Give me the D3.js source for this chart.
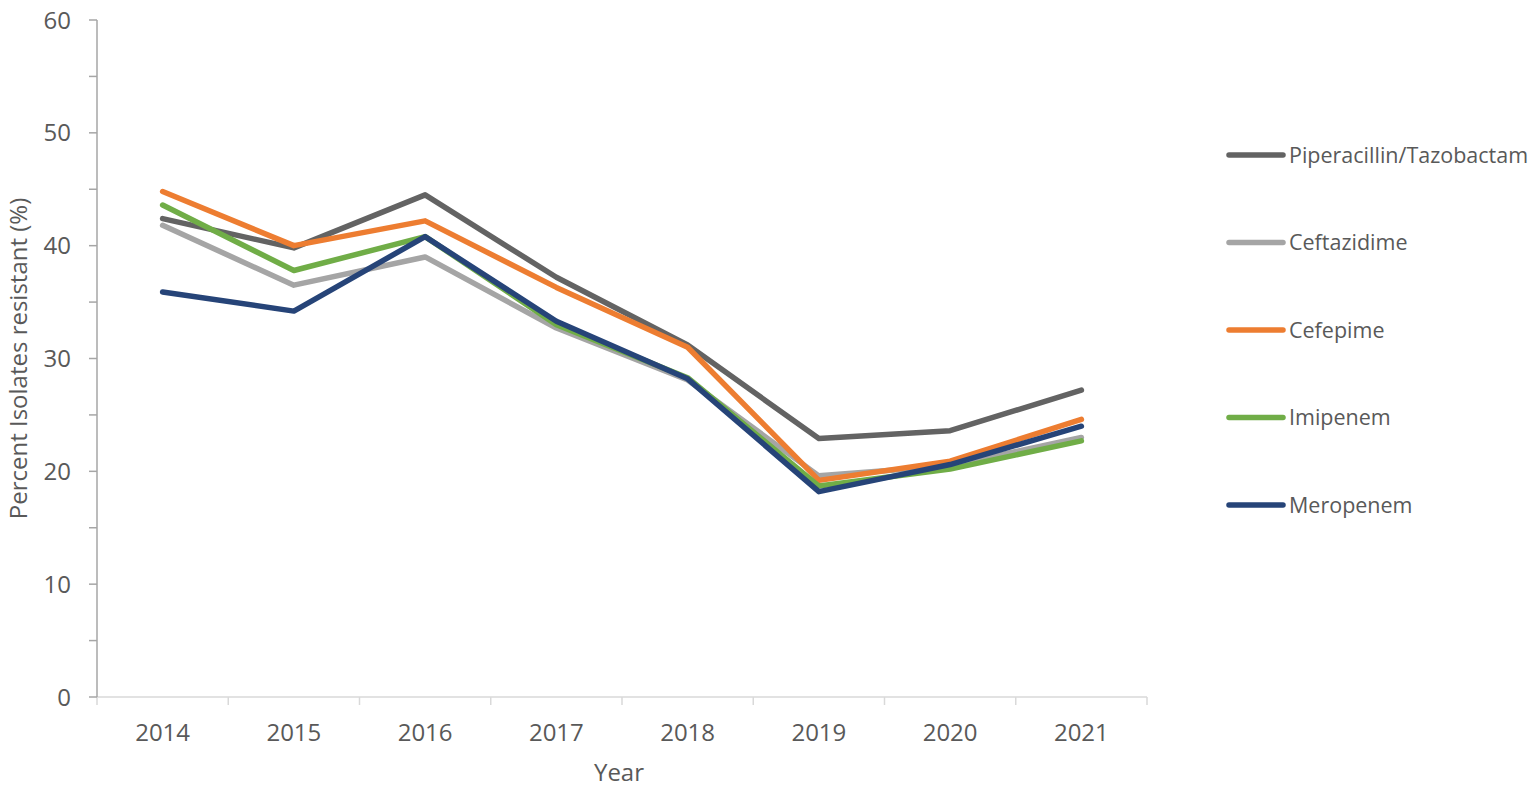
<!DOCTYPE html>
<html>
<head>
<meta charset="utf-8">
<script src="https://cdn.jsdelivr.net/npm/d3@7"></script>
<style>
  html, body { margin: 0; padding: 0; background: #fff; }
  svg { display: block; font-family: "Open Sans", "Noto Sans", sans-serif; }
</style>
</head>
<body>
<div id="chart"></div>
<script>
const years = ["2014", "2015", "2016", "2017", "2018", "2019", "2020", "2021"];
const drugNames = ["Piperacillin/Tazobactam", "Ceftazidime", "Cefepime", "Imipenem", "Meropenem"];
const drugColors = ["#636363", "#a5a5a5", "#ed7d31", "#70ad47", "#264478"];

const pipTaz      = [42.4, 39.8, 44.5, 37.2, 31.2, 22.9, 23.6, 27.2];
const ceftazidime = [41.8, 36.5, 39.0, 32.7, 28.1, 19.6, 20.5, 23.0];
const cefepime    = [44.8, 40.0, 42.2, 36.3, 31.0, 19.2, 20.9, 24.6];
const imipenem    = [43.6, 37.8, 40.8, 33.0, 28.3, 18.7, 20.2, 22.7];
const meropenem   = [35.9, 34.2, 40.8, 33.3, 28.2, 18.2, 20.6, 24.0];

const seriesValues = [pipTaz, ceftazidime, cefepime, imipenem, meropenem];
const yTicks = [0, 10, 20, 30, 40, 50, 60];
const yMinorTicks = [5, 15, 25, 35, 45, 55];

const width = 1536, height = 791;
const margin = { top: 20, right: 389, bottom: 94, left: 97 };
const innerW = width - margin.left - margin.right;
const innerH = height - margin.top - margin.bottom;

const svg = d3.select("#chart").append("svg")
  .attr("width", width)
  .attr("height", height);

const g = svg.append("g")
  .attr("transform", `translate(${margin.left},${margin.top})`);

const x = d3.scaleBand().domain(years).range([0, innerW]);
const y = d3.scaleLinear().domain([0, 60]).range([innerH, 0]);

// x axis: ticks at category boundaries
g.append("line")
  .attr("x1", 0).attr("x2", innerW)
  .attr("y1", innerH).attr("y2", innerH)
  .attr("stroke", "#d9d9d9").attr("stroke-width", 1.5);

const bounds = years.map(d => x(d)).concat([innerW]);
g.selectAll(".xtick")
  .data(bounds)
  .enter().append("line")
  .attr("x1", d => d).attr("x2", d => d)
  .attr("y1", innerH).attr("y2", innerH + 8)
  .attr("stroke", "#d9d9d9").attr("stroke-width", 1.5);

g.selectAll(".xlabel")
  .data(years)
  .enter().append("text")
  .attr("x", d => x(d) + x.bandwidth() / 2)
  .attr("y", innerH + 44)
  .attr("text-anchor", "middle")
  .attr("font-size", 24)
  .attr("fill", "#595959")
  .text(d => d);

// y axis
g.append("line")
  .attr("x1", 0).attr("x2", 0)
  .attr("y1", 0).attr("y2", innerH)
  .attr("stroke", "#a6a6a6").attr("stroke-width", 1.5);

g.selectAll(".ytick")
  .data(yTicks.concat(yMinorTicks))
  .enter().append("line")
  .attr("x1", -8).attr("x2", 0)
  .attr("y1", d => y(d)).attr("y2", d => y(d))
  .attr("stroke", "#a6a6a6").attr("stroke-width", 1.5);

g.selectAll(".ylabel")
  .data(yTicks)
  .enter().append("text")
  .attr("x", -26)
  .attr("y", d => y(d))
  .attr("dy", "0.36em")
  .attr("text-anchor", "end")
  .attr("font-size", 24)
  .attr("fill", "#595959")
  .text(d => d);

// axis titles
g.append("text")
  .attr("transform", "rotate(-90)")
  .attr("x", -innerH / 2)
  .attr("y", -70)
  .attr("text-anchor", "middle")
  .attr("font-size", 24)
  .attr("fill", "#595959")
  .text("Percent Isolates resistant (%)");

g.append("text")
  .attr("x", innerW / 2 - 3)
  .attr("y", innerH + 84)
  .attr("text-anchor", "middle")
  .attr("font-size", 24)
  .attr("fill", "#595959")
  .text("Year");

// lines
const line = d3.line()
  .x((d, i) => x(years[i]) + x.bandwidth() / 2)
  .y(d => y(d));

g.selectAll(".series")
  .data(seriesValues)
  .enter().append("path")
  .attr("fill", "none")
  .attr("stroke", (d, i) => drugColors[i])
  .attr("stroke-width", 5.5)
  .attr("stroke-linejoin", "round")
  .attr("stroke-linecap", "round")
  .attr("d", line);

// legend
const legend = svg.append("g")
  .attr("transform", "translate(1229,155)");

const li = legend.selectAll("g")
  .data(drugNames)
  .enter().append("g")
  .attr("transform", (d, i) => `translate(0,${i * 87.5})`);

li.append("line")
  .attr("x1", 0).attr("x2", 54)
  .attr("y1", 0).attr("y2", 0)
  .attr("stroke", (d, i) => drugColors[i])
  .attr("stroke-width", 5.5)
  .attr("stroke-linecap", "round");

li.append("text")
  .attr("x", 60)
  .attr("y", 0)
  .attr("dy", "0.35em")
  .attr("font-size", 21.5)
  .attr("fill", "#595959")
  .text(d => d);
</script>
</body>
</html>
